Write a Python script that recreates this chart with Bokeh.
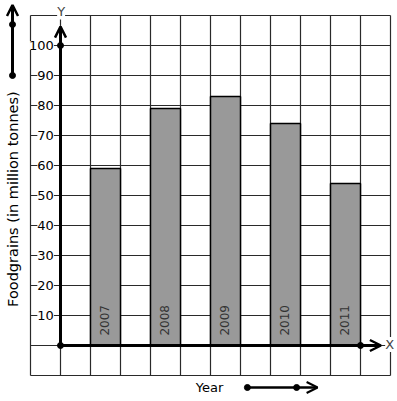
import math
from bokeh.plotting import figure
from bokeh.models import Arrow, OpenHead, ColumnDataSource, LabelSet, Label, Range1d
from bokeh.embed import file_html
from bokeh.resources import INLINE
from bokeh.core.properties import value

# ---- data ----
years = ["2007", "2008", "2009", "2010", "2011"]
foodgrains = [59, 79, 83, 74, 54]
y_ticks = [10, 20, 30, 40, 50, 60, 70, 80, 90, 100]
y_tick_labels = [str(t) for t in y_ticks]
y_title = "Foodgrains (in million tonnes)"
x_title = "Year"

FONT = "DejaVu Sans"

p = figure(width=397, height=401, output_backend="svg", toolbar_location=None,
           x_range=Range1d(-2.0, 11.2333), y_range=Range1d(-18.667, 115.0),
           min_border=0, outline_line_color=None,
           background_fill_color="white", border_fill_color="white")
p.axis.visible = False
p.grid.visible = False

# ---- square grid box ----
gx = list(range(-1, 12))
gy = list(range(-10, 111, 10))
p.segment(x0=gx, y0=[-10] * len(gx), x1=gx, y1=[110] * len(gx),
          line_color="#2a2a2a", line_width=1.2)
p.segment(x0=[-1] * len(gy), y0=gy, x1=[11] * len(gy), y1=gy,
          line_color="#2a2a2a", line_width=1.2)

# ---- bars ----
bar_x = [1.5 + 2 * i for i in range(len(years))]
src = ColumnDataSource(dict(x=bar_x, top=foodgrains, year=years,
                            ty=[3.3] * len(years)))
p.vbar(x="x", top="top", bottom=0, width=1, source=src,
       fill_color="#999999", line_color="black", line_width=1.5)

p.add_layout(LabelSet(x="x", y="ty", text="year", source=src,
                      angle=math.pi / 2, text_align="left", text_baseline="middle",
                      text_font=value(FONT), text_font_size=value("12px"),
                      text_color="#333333", x_offset=-1))

# ---- axes with arrows ----
p.add_layout(Arrow(end=OpenHead(size=11, line_width=2.5, line_color="black"),
                   x_start=0, y_start=0, x_end=0, y_end=106.3,
                   line_width=3, line_color="black"))
p.add_layout(Arrow(end=OpenHead(size=11, line_width=2.5, line_color="black"),
                   x_start=0, y_start=0, x_end=10.68, y_end=0,
                   line_width=3, line_color="black"))
p.scatter(x=[0, 0, 10], y=[0, 100, 0], size=6, color="black")

# scale arrows
p.add_layout(Arrow(end=OpenHead(size=11, line_width=2.5, line_color="black"),
                   x_start=-1.6, y_start=90, x_end=-1.6, y_end=113.5,
                   line_width=3, line_color="black"))
p.scatter(x=[-1.6, -1.6], y=[90, 107], size=6, color="black")
p.add_layout(Arrow(end=OpenHead(size=11, line_width=2, line_color="black"),
                   x_start=6.23, y_start=-14.0, x_end=8.57, y_end=-14.0,
                   line_width=2.5, line_color="black"))
p.scatter(x=[6.23, 7.87], y=[-14.0, -14.0], size=6, color="black")

# ---- tick labels ----
tsrc = ColumnDataSource(dict(x=[-0.22] * len(y_ticks), y=y_ticks, t=y_tick_labels))
p.add_layout(LabelSet(x="x", y="y", text="t", source=tsrc,
                      text_align="right", text_baseline="middle",
                      text_font=value(FONT), text_font_size=value("13px"),
                      text_color="black", background_fill_color="white"))

# axis letters
p.add_layout(Label(x=0.02, y=111.2, text="Y", text_align="center", text_baseline="middle",
                   text_font=FONT, text_font_size="13px",
                   background_fill_color="white"))
p.add_layout(Label(x=10.97, y=0.3, text="X", text_align="center", text_baseline="middle",
                   text_font=FONT, text_font_size="13px",
                   background_fill_color="white"))

# titles
p.add_layout(Label(x=-1.567, y=48.8, text=y_title, angle=math.pi / 2,
                   text_align="center", text_baseline="middle",
                   text_font=FONT, text_font_size="14.5px", text_color="black"))
p.add_layout(Label(x=4.97, y=-14.0, text=x_title, text_align="center", text_baseline="middle",
                   text_font=FONT, text_font_size="13px", text_color="black"))

open("out.html", "w").write(file_html(p, INLINE))
